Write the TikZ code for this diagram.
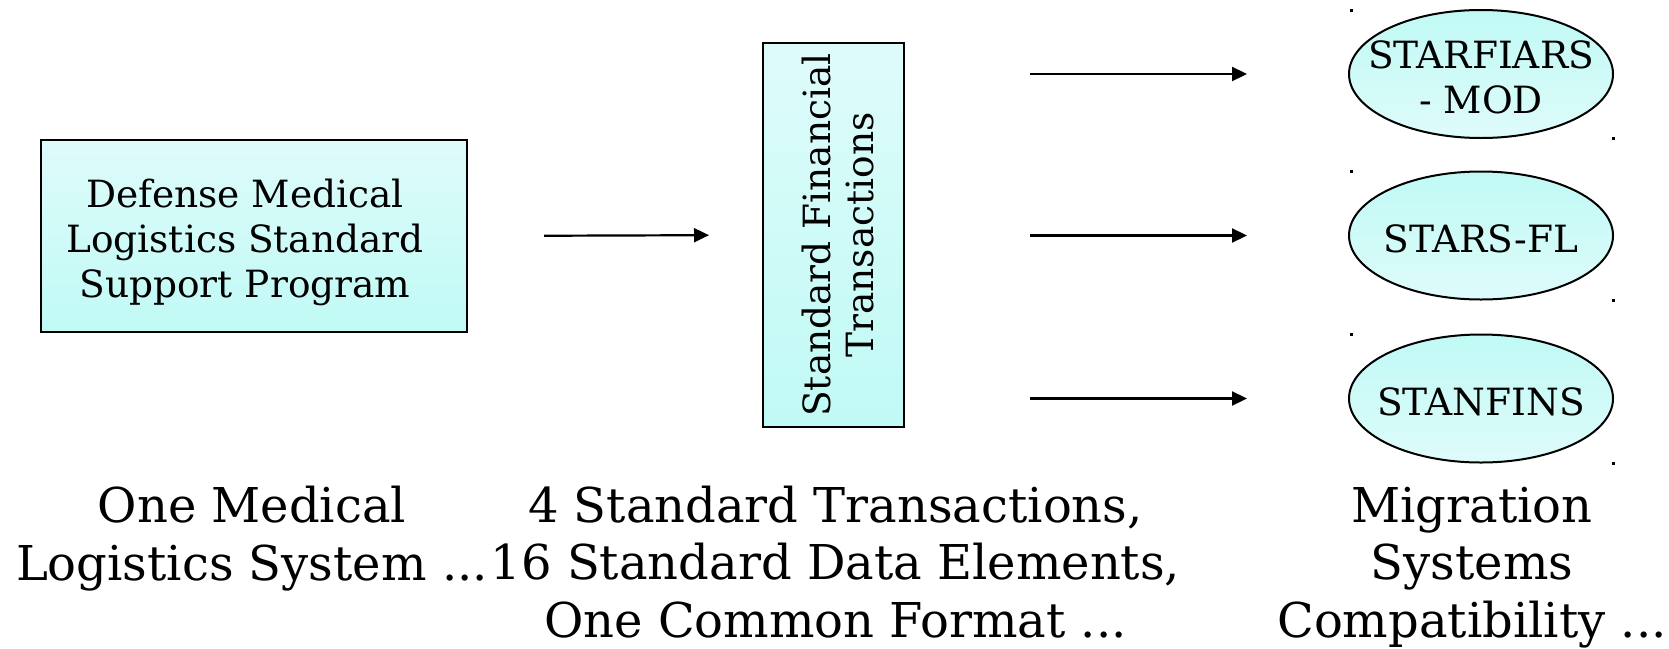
\documentclass[tikz,border=0pt]{standalone}
\usepackage{fontspec}
\usepackage{graphicx}
\setmainfont{DejaVu Serif}
\usetikzlibrary{arrows.meta,shapes.geometric}
\definecolor{cyanD}{HTML}{C0FAF5}
\definecolor{cyanL}{HTML}{DEFBFA}
\tikzset{
  boxfont/.style={font=\fontsize{37.5}{45}\selectfont},
  labfont/.style={font=\fontsize{48}{57.5}\selectfont},
  sbox/.style={draw=black, line width=2pt, top color=cyanL, bottom color=cyanD, inner sep=0pt},
  sell/.style={ellipse, draw=black, line width=2pt, top color=cyanD, bottom color=cyanL, minimum width=264pt, minimum height=128pt, inner sep=0pt},
  etext/.style={boxfont, align=center, inner sep=0pt},
  conn/.style={line width=2.2pt, -{Triangle[length=15pt,width=14pt]}},
  lab/.style={labfont, align=center, anchor=base},
  marker/.style={fill=black}
}
\begin{document}
\begin{tikzpicture}[x=1pt,y=-1pt]
\useasboundingbox (0,0) rectangle (1669,648);
% left box
\node[sbox, minimum width=426pt, minimum height=192pt,
  label={[etext, xshift=-9pt, yshift=-6pt]center:Defense Medical\\Logistics Standard\\Support Program}] (dml) at (254,236) {};
% middle box
\node[sbox, minimum width=141pt, minimum height=384pt,
  label={[etext, xshift=9pt]center:\rotatebox{90}{\begin{tabular}{@{}c@{}}Standard Financial\\[-2pt]Transactions\end{tabular}}}] (sft) at (833.5,235) {};
% ellipses
\node[sell, label={[etext, yshift=-3pt]center:STARFIARS\\- MOD}] (e1) at (1481,74) {};
\node[sell, label={[etext, yshift=-3pt]center:STARS-FL}] (e2) at (1481,235.5) {};
\node[sell, label={[etext, yshift=-3pt]center:STANFINS}] (e3) at (1481,398.5) {};
% corner marks
\foreach \y/\z in {10/138, 171/300, 334/463}{
  \fill[marker] (1350,\y-1) rectangle ++(3,3);
  \fill[marker] (1612,\z-1) rectangle ++(3,3);
}
% connectors
\draw[conn, shorten <=76pt, shorten >=53pt] (dml.east) -- (sft.west);
\draw[conn, shorten <=125pt, shorten >=101pt] (sft.east |- e1.west) -- (e1.west);
\draw[conn, shorten <=125pt, shorten >=101pt] (sft.east |- e2.west) -- (e2.west);
\draw[conn, shorten <=125pt, shorten >=101pt] (sft.east |- e3.west) -- (e3.west);
% bottom labels
\node[lab] (l1) at (252,580) {One Medical\\Logistics System ...};
\node[lab] (l2) at (835.5,637) {4 Standard Transactions,\\16 Standard Data Elements,\\One Common Format ...};
\node[lab] (l3) at (1472,637) {Migration\\Systems\\Compatibility ...};
\end{tikzpicture}
\end{document}
